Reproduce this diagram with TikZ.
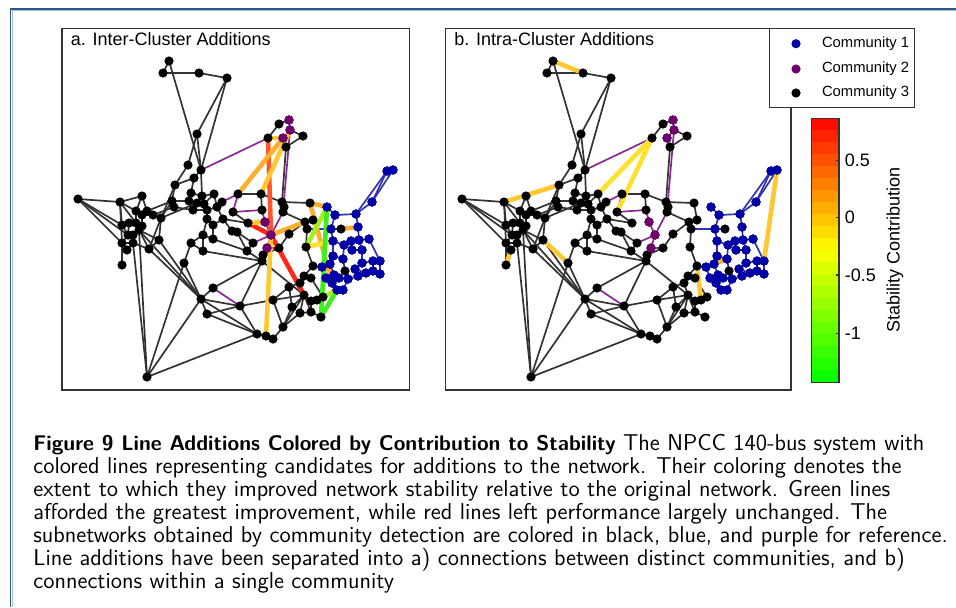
\documentclass[tikz,border=0pt]{standalone}
\usepackage{fontspec}
\newfontfamily\arialfont{Liberation Sans}
\definecolor{netgray}{RGB}{51,51,51}
\definecolor{busblue}{RGB}{0,0,170}
\definecolor{buspurple}{RGB}{112,0,112}
\definecolor{lineblue}{RGB}{50,50,180}
\definecolor{linepurple}{RGB}{140,40,150}
\definecolor{framecol}{RGB}{45,85,135}
\definecolor{framelight}{RGB}{170,195,220}
\definecolor{addred}{RGB}{255,40,25}
\definecolor{addtomato}{RGB}{255,85,45}
\definecolor{addorange}{RGB}{255,175,45}
\definecolor{addgold}{RGB}{255,200,50}
\definecolor{addyellow}{RGB}{255,225,45}
\definecolor{addlime}{RGB}{165,240,35}
\definecolor{addgreen}{RGB}{60,240,30}
\definecolor{cbred}{RGB}{255,0,0}
\definecolor{cbyellow}{RGB}{255,255,0}
\definecolor{cbgreen}{RGB}{0,255,0}
\tikzset{
	netline/.style={netgray,line width=0.85pt},
	blueline/.style={lineblue,line width=0.85pt},
	purpleline/.style={linepurple,line width=0.85pt},
	addline/.style={line width=2.3pt,line cap=round},
	boxline/.style={draw=netgray,line width=0.55pt},
	paneltext/.style={font=\arialfont\fontsize{9}{11}\selectfont,inner sep=0pt},
	legtext/.style={font=\arialfont\fontsize{7.4}{9}\selectfont,inner sep=0pt,anchor=west,text=black},
	ticktext/.style={font=\arialfont\fontsize{9}{11}\selectfont,inner sep=0pt,anchor=west}
}
% bus positions and the lines of the original network
\newcommand\busnet{%
	\foreach \n/\x/\y in {1/169/61,2/163/73,3/199/73,4/227/78,5/197/134,6/188/165,7/201/170,8/175/185,
		9/194/178,10/191/193,11/202/196,12/214/194,13/172/201,14/189/201,15/197/203,16/204/204,
		17/222/202,18/174/207,19/193/210,20/207/210,21/217/207,22/207/219,23/213/225,24/223/219,
		25/203/235,26/213/239,27/203/251,28/191/243,29/184/263,30/161/218,31/78/199,32/120/202,
		33/142/196,34/136/211,35/147/211,36/142/215,37/153/215,38/122/225,39/129/223,40/136/223,
		41/142/226,42/128/235,43/133/235,44/139/230,45/122/243,46/133/243,47/127/250,48/149/249,
		49/159/240,50/122/265,51/147/377,52/238/194,53/261/194,54/233/212,55/262/210,56/248/223,
		57/265/222,58/232/231,59/237/232,60/271/235,61/267/248,62/253/243,63/247/251,64/263/255,
		65/262/261,66/279/248,67/289/234,68/282/202,69/284/207,70/283/212,71/310/203,72/268/138,
		73/279/124,74/289/120,75/290/130,76/283/138,77/303/136,78/286/147,79/305/222,80/313/220,
		81/307/229,82/306/247,83/313/266,84/345/271,85/341/229,86/327/207,87/335/215,88/356/214,
		89/372/202,90/387/171,91/393/170,92/331/229,93/358/227,94/333/241,95/344/245,96/351/241,
		97/359/240,98/369/239,99/333/256,100/343/259,101/352/250,102/362/250,103/362/263,104/373/261,
		105/380/261,106/355/269,107/366/273,108/373/271,109/380/274,110/358/276,111/322/267,112/330/264,
		113/326/278,114/334/275,115/339/278,116/348/279,117/332/283,118/337/290,119/343/290,120/304/276,
		121/311/278,122/300/283,123/289/287,124/304/295,125/311/301,126/317/300,127/323/297,128/321/317,
		129/300/313,130/311/312,131/292/307,132/283/327,133/273/300,134/257/334,135/266/336,136/273/339,
		137/240/306,138/213/288,139/201/299,140/207/314}
		{\coordinate (v\n) at (\x,\y);}
	\foreach \a/\b in {1/2,2/3,3/4,1/7,4/5,4/7,5/6,5/7,6/8,7/9,8/9,9/10,8/13,7/11,10/14,10/11,11/12,
		11/15,12/16,13/14,13/18,14/15,14/19,15/16,16/20,18/19,19/20,20/21,21/17,12/21,20/22,22/23,
		23/24,21/24,22/25,25/26,25/27,23/26,27/28,28/29,28/25,26/63,24/58,24/56,
		30/13,30/8,37/18,35/13,30/15,
		31/32,31/38,31/42,31/45,32/33,32/34,32/38,32/40,32/45,33/34,33/35,34/36,35/37,34/40,36/41,
		37/30,38/40,38/42,40/41,41/44,40/44,42/43,43/44,43/46,42/45,45/46,45/47,45/50,46/47,44/48,
		44/49,48/49,30/49,30/48,46/48,36/37,39/40,38/39,39/42,
		51/46,51/44,51/29,51/139,51/134,44/139,48/139,49/139,29/139,
		27/65,52/53,53/55,53/68,68/71,68/69,69/70,70/79,54/56,58/59,59/63,59/62,62/63,63/65,64/65,
		64/66,66/67,67/79,65/138,65/137,65/124,
		72/73,73/74,75/77,77/78,78/68,
		71/80,79/80,79/81,81/82,82/83,83/120,
		120/121,120/122,122/123,122/124,123/131,123/133,124/125,124/129,124/130,124/131,124/132,
		125/126,126/127,121/127,125/130,129/130,130/128,131/132,129/132,132/136,133/132,133/137,
		133/124,134/135,135/136,134/137,134/139,134/140,137/140,138/139,139/140,139/137}
		{\draw[netline] (v\a) -- (v\b);}
	\foreach \a/\b in {86/87,87/88,88/89,89/90,89/91,90/91,90/88,87/92,92/94,88/93,93/97,94/95,
		95/96,96/97,97/98,94/99,95/100,96/101,97/102,98/105,99/100,101/102,102/103,103/104,104/105,
		103/106,104/108,105/109,106/107,107/108,108/109,106/110,99/112,111/112,111/113,112/114,
		113/114,114/115,115/116,116/110,113/117,117/118,118/119,119/116,84/100,84/116,81/92,85/92,111/83}
		{\draw[blueline] (v\a) -- (v\b);}
	\foreach \a/\b in {17/52,52/54,54/55,55/57,57/60,60/61,60/62,70/60,75/70,75/76,74/75,76/78,
		7/72,138/137,61/66}
		{\draw[purpleline] (v\a) -- (v\b);}
}
% bus dots, coloured by community
\newcommand\busdots{%
	\foreach \n in {1,...,140} {\fill (v\n) circle (2.3pt);}
	\foreach \n in {86,...,119} {\fill[busblue] (v\n) circle (2.3pt);}
	\foreach \n in {57,60,61,74,75,76} {\fill[buspurple] (v\n) circle (2.3pt);}
}
\begin{document}
\begin{tikzpicture}[x=0.5pt,y=-0.5pt]
	\useasboundingbox (0,0) rectangle (956,607);
	\fill[white] (0,0) rectangle (956,607);
	\draw[framelight,line width=0.6pt] (12.2,607) -- (12.2,10.7) -- (956,10.7);
	\draw[framecol,line width=0.8pt] (10.5,607) -- (10.5,9) -- (956,9);

	% panel a: lines between communities
	\draw[boxline] (62,28.7) rectangle (409.3,390);
	\node[paneltext,anchor=base west] (titlea) at (70.5,45.7) {a. Inter-Cluster Additions};
	\busnet
	\draw[addline,addred] (v60) -- (v124);
	\draw[addline,addred] (v56) -- (v60);
	\draw[addline,addtomato] (v72) -- (v60);
	\draw[addline,addgold] (v72) -- (v76);
	\draw[addline,addorange] (v52) -- (v76);
	\draw[addline,addgold] (v53) -- (v75);
	\draw[addline,addgold] (v56) -- (v57);
	\draw[addline,addgold] (v60) -- (v135);
	\draw[addline,addorange] (v60) -- (v79);
	\draw[addline,addorange] (v71) -- (v86);
	\draw[addline,addorange] (v71) -- (v117);
	\draw[addline,addyellow] (v82) -- (v94);
	\draw[addline,addorange] (v85) -- (v93);
	\draw[addline,addlime] (v82) -- (v86);
	\draw[addline,addgreen] (v86) -- (v128);
	\draw[addline,addgreen] (v128) -- (v118);
	\draw[addline,addlime] (v127) -- (v118);
	\busdots

	% panel b: lines within one community
	\draw[boxline] (445.3,28.7) rectangle (791,390);
	\node[paneltext,anchor=base west] (titleb) at (454,45.7) {b. Intra-Cluster Additions};
	\begin{scope}[xshift=192pt]
		\busnet
		\draw[addline,addgold] (v1) -- (v3);
		\draw[addline,addgold] (v8) -- (v32);
		\draw[addline,addyellow] (v72) -- (v12);
		\draw[addline,addyellow] (v72) -- (v54);
		\draw[addline,addgold] (v91) -- (v105);
		\draw[addline,addgold] (v50) -- (v47);
		\draw[addline,addgold] (v49) -- (v29);
		\draw[addline,addgold] (v83) -- (v126);
		\draw[addline,addorange] (v112) -- (v100);
		\draw[addline,addorange] (v95) -- (v96);
		\busdots
	\end{scope}

	% legend
	\draw[boxline,fill=white] (769.3,28.7) rectangle (914.3,107.3);
	\foreach \c/\y [count=\k] in {busblue/43.7,buspurple/69,black/93}
		\fill[\c] (796,\y) circle (2.3pt) node[legtext,xshift=12.8pt] (leg\k) {Community \k};

	% colour bar
	\foreach \i in {0,...,10} {
		\pgfmathsetmacro\p{(\i+0.5)/11*100}
		\fill[cbyellow!\p!cbgreen] (811.7,{382.3-12*\i}) rectangle (839,{382.3-12*\i-12.4});
	}
	\foreach \i in {0,...,10} {
		\pgfmathsetmacro\p{(\i+0.5)/11*100}
		\fill[cbred!\p!cbyellow] (811.7,{250.3-12*\i}) rectangle (839,{250.3-12*\i-12.4});
	}
	\draw[boxline] (811.7,118.3) rectangle (839,382.3);
	\foreach \v/\y [count=\k] in {0.5/160.7,0/217.7,-0.5/275,-1/333.3} {
		\draw[boxline] (835.5,\y) -- (839,\y);
		\node[ticktext] (tick\k) at (844.5,\y) {\v};
	}
	\node[paneltext,rotate=90] (cblabel) at (895,250) {Stability Contribution};

	% caption
	\node[anchor=north west,inner sep=0pt,align=left,font=\sffamily\fontsize{11.45}{11.5}\selectfont] (caption) at (33,434)
		{{\fontsize{10.6}{11.5}\selectfont\bfseries Figure 9 Line Additions Colored by Contribution to Stability} The NPCC 140-bus system with\\
		colored lines representing candidates for additions to the network. Their coloring denotes the\\
		extent to which they improved network stability relative to the original network. Green lines\\
		afforded the greatest improvement, while red lines left performance largely unchanged. The\\
		subnetworks obtained by community detection are colored in black, blue, and purple for reference.\\
		Line additions have been separated into a) connections between distinct communities, and b)\\
		connections within a single community};
\end{tikzpicture}
\end{document}
